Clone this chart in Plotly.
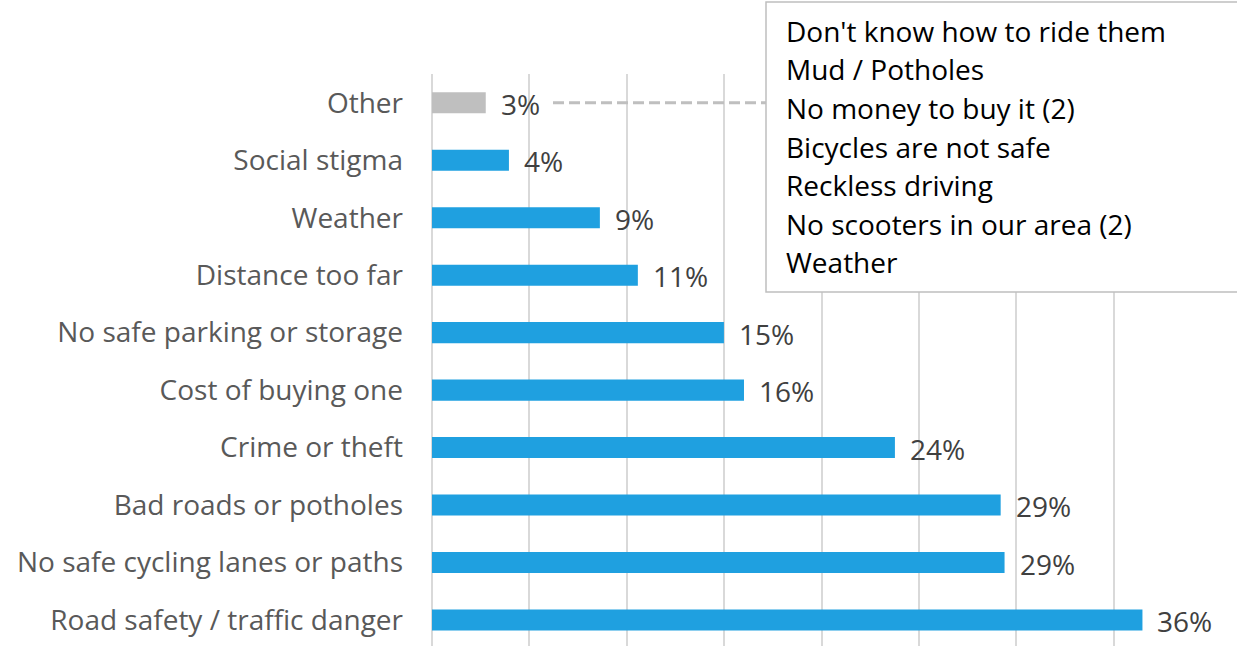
import plotly.graph_objects as go

# Barriers to cycling / scooter use (share of respondents)
categories = [
    "Other",
    "Social stigma",
    "Weather",
    "Distance too far",
    "No safe parking or storage",
    "Cost of buying one",
    "Crime or theft",
    "Bad roads or potholes",
    "No safe cycling lanes or paths",
    "Road safety / traffic danger",
]
shares = [0.0276, 0.0395, 0.0862, 0.1057, 0.1499, 0.1602, 0.2377, 0.2920, 0.2940, 0.3648]

# Free-text answers grouped under "Other"
other_answers = [
    "Don't know how to ride them",
    "Mud / Potholes",
    "No money to buy it (2)",
    "Bicycles are not safe",
    "Reckless driving",
    "No scooters in our area (2)",
    "Weather",
]

BLUE = "#1FA0E0"
GREY = "#BFBFBF"
FONT = "Open Sans"

W, H = 1237, 646
left, right, top, bottom = 432, 26, 74, 0
plot_h = H - top - bottom

colors = [GREY if c == "Other" else BLUE for c in categories]

fig = go.Figure(
    go.Bar(
        x=shares,
        y=categories,
        orientation="h",
        marker=dict(color=colors, line=dict(width=0)),
        width=0.366,
        hoverinfo="skip",
    )
)

# value labels to the right of each bar
for c, v in zip(categories, shares):
    fig.add_annotation(
        x=v, y=c, xref="x", yref="y",
        text=f"{v:.0%}", showarrow=False,
        xanchor="left", yanchor="middle", xshift=13, yshift=-1,
        font=dict(family=FONT, size=28, color="#404040"),
    )

def px_to_paper_y(py):
    return (H - bottom - py) / plot_h

def px_to_paper_x(px):
    return (px - left) / (W - left - right)

# callout box listing the "Other" answers
fig.add_shape(
    type="rect", xref="paper", yref="paper",
    x0=px_to_paper_x(766), x1=px_to_paper_x(1245),
    y0=px_to_paper_y(292), y1=px_to_paper_y(2),
    line=dict(color=GREY, width=1.5), fillcolor="white", layer="above",
)
# dashed leader from the "Other" label to the box
fig.add_shape(
    type="line", xref="paper", yref="y",
    x0=px_to_paper_x(553), x1=px_to_paper_x(766), y0=0, y1=0,
    line=dict(color=GREY, width=3, dash="11px,5px"), layer="above",
)
for i, line in enumerate(other_answers):
    fig.add_annotation(
        x=px_to_paper_x(784), y=px_to_paper_y(31 + 38.5 * i),
        xref="paper", yref="paper", text=line, showarrow=False,
        xanchor="left", yanchor="middle",
        font=dict(family=FONT, size=28, color="#000000"),
    )

fig.update_layout(
    width=W, height=H,
    margin=dict(l=left, r=right, t=top, b=bottom, pad=0),
    paper_bgcolor="white", plot_bgcolor="white",
    showlegend=False,
    font=dict(family=FONT, color="#595959"),
)
fig.update_xaxes(
    range=[0, 0.40], dtick=0.05, showgrid=True, gridcolor="#D9D9D9", gridwidth=1.5,
    showticklabels=False, zeroline=True, zerolinecolor="#D9D9D9", zerolinewidth=1.5,
    showline=False, ticks="",
)
fig.update_yaxes(
    range=[9.452, -0.5], showgrid=False, zeroline=False, showline=False, ticks="",
    tickfont=dict(family=FONT, size=28, color="#595959"), ticklabelstandoff=28,
)

fig.write_html("out.html")
